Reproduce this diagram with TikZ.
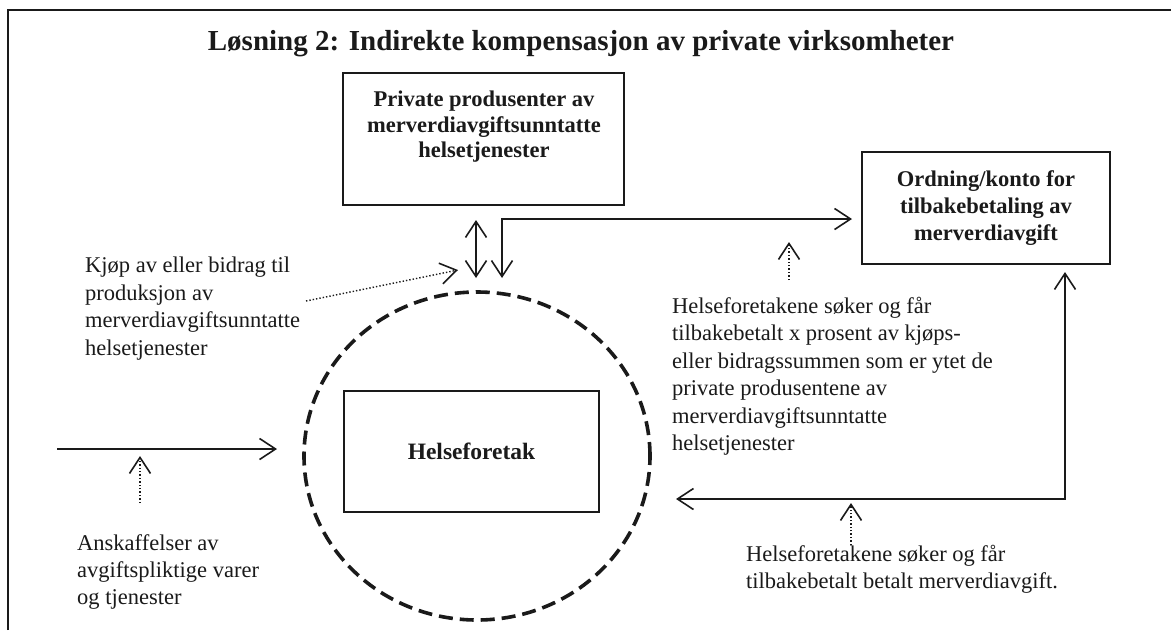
\documentclass[tikz,border=0pt]{standalone}
\usepackage{fontspec}
\setmainfont{Liberation Serif}
\usetikzlibrary{arrows.meta,shapes.geometric}
\definecolor{ink}{HTML}{1A1A1A}
\tikzset{
  barb/.tip={Straight Barb[length=16pt,width=21pt,line width=1.6pt]},
  arr/.style={line width=1.6pt,draw=ink},
  dotarr/.style={line width=1.4pt,draw=ink,dotted},
  box/.style={draw=ink,line width=1.3pt,rectangle,inner sep=0pt,align=center,font=\fontsize{22.5}{27}\selectfont\bfseries,text=ink},
  lbl/.style={inner sep=0pt,align=left,anchor=north west,font=\fontsize{22.5}{27.4}\selectfont,text=ink},
}
\begin{document}
\begin{tikzpicture}[x=1pt,y=-1pt]
\useasboundingbox (0,0) rectangle (1171,630);
\fill[white] (0,0) rectangle (1171,630);
% frame
\coordinate (fb) at (8,630);
\coordinate (ftl) at (8,10);
\coordinate (fr) at (1171,10);
\draw[line width=1.6pt,draw=ink] (fb) -- (ftl) -- (fr);
% title
\node[inner sep=0pt,font=\fontsize{29}{34}\selectfont\bfseries,text=ink] (title) at (581,44) {Løsning 2: Indirekte kompensasjon av private virksomheter};
% boxes
\node[box,minimum width=281pt,minimum height=132pt] (priv) at (483.5,139) {};
\node[inner sep=0pt,align=center,font=\fontsize{22.5}{25.5}\selectfont\bfseries,text=ink] (privtxt) at (484,127) {Private produsenter av\\merverdiavgiftsunntatte\\helsetjenester};
\node[box,minimum width=248pt,minimum height=112pt] (ord) at (986,208) {Ordning/konto for\\tilbakebetaling av\\merverdiavgift};
\node[box,minimum width=255pt,minimum height=121pt,font=\fontsize{23.5}{27}\selectfont\bfseries] (hf) at (471.5,451.5) {Helseforetak};
% dashed circle
\node[ellipse,draw=ink,line width=3.6pt,dash pattern=on 14pt off 7pt,minimum width=346pt,minimum height=328pt,inner sep=0pt] (circ) at (477,456) {};
% double arrow between private producers and health enterprises
\coordinate (da) at (476,220);
\coordinate (db) at (476,278);
\draw[arr,{barb}-{barb}] (da) -- (db);
% arrow to Ordning
\coordinate (ob) at (502,278);
\coordinate (oe) at (852,219);
\draw[arr,{barb}-{barb}] (ob) |- (oe);
% return arrow
\coordinate (ra) at (1065,272);
\coordinate (rc) at (1065,499);
\coordinate (rb) at (676,499);
\draw[arr,{barb}-{barb}] (ra) -- (rc) -- (rb);
% incoming purchases arrow
\coordinate (inL) at (57,449);
\coordinate (inR) at (277,449);
\draw[arr,-{barb}] (inL) -- (inR);
% labels
\node[lbl] (kjop) at (85,257) {Kjøp av eller bidrag til\\produksjon av\\merverdiavgiftsunntatte\\helsetjenester};
\node[lbl] (ansk) at (77,534) {Anskaffelser av\\avgiftspliktige varer\\og tjenester};
\node[lbl] (sok1) at (672,297) {Helseforetakene søker og får\\tilbakebetalt x prosent av kjøps-\\eller bidragssummen som er ytet de\\private produsentene av\\merverdiavgiftsunntatte\\helsetjenester};
\node[lbl] (sok2) at (746,545) {Helseforetakene søker og får\\tilbakebetalt betalt merverdiavgift.};
% dotted pointers
\coordinate (k1) at (306,301);
\coordinate (k2) at (458,270);
\draw[dotarr,-{barb}] (k1) -- (k2);
\coordinate (s1a) at (789,280);
\coordinate (s1b) at (789,242);
\draw[dotarr,-{barb}] (s1a) -- (s1b);
\coordinate (s2a) at (851,545);
\coordinate (s2b) at (851,503);
\draw[dotarr,-{barb}] (s2a) -- (s2b);
\coordinate (a1) at (140,503);
\coordinate (a2) at (140,456);
\draw[dotarr,-{barb}] (a1) -- (a2);
\end{tikzpicture}
\end{document}
